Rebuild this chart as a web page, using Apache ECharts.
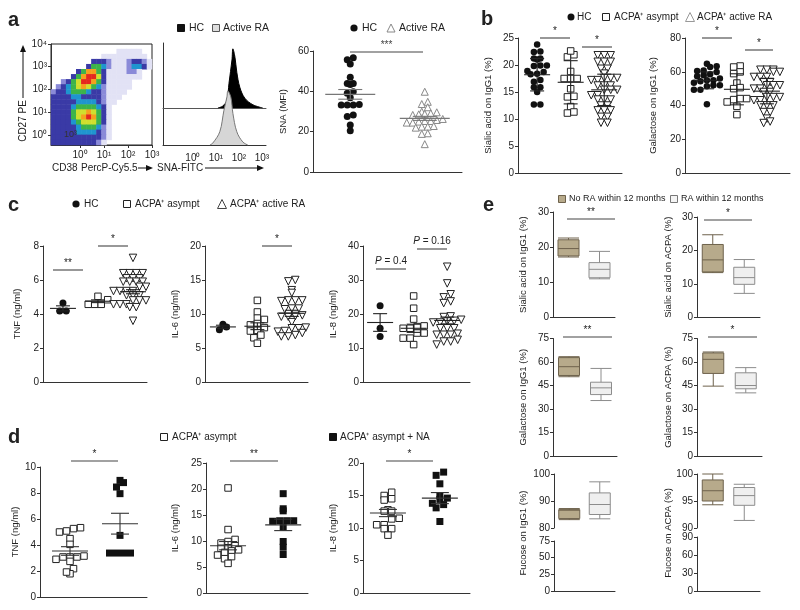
<!DOCTYPE html>
<html><head><meta charset="utf-8">
<script src="https://cdn.jsdelivr.net/npm/echarts@6/dist/echarts.min.js"></script>
<style>html,body{margin:0;padding:0;background:#fff}#c{width:800px;height:610px}</style>
</head><body><div id="c"></div>
<script>
// ---------- DATA ----------
// Panel a: flow density (levels 0-8, rows top->bottom, 20x20 cells)
const flowRows = [
"00000000000000000000",
"00000000000001111100",
"00000000001111111110",
"00000000333211123321",
"00000003554211124431",
"00000357753111122100",
"00003578863111111100",
"00235688753111110000",
"02345676542111110000",
"23345554332111100000",
"33334433332111000000",
"33333444432110000000",
"33334555543100000000",
"33335667653100000000",
"33335678753100000000",
"33334566653100000000",
"33333455542100000000",
"33333444432100000000",
"33333333332100000000",
"33333333321000000000"];
const flowTicks = [0,1,2,3];
const flowYTicks = [0,1,2,3,4];
// histogram (log10 SNA-FITC, relative count)
const histHC = [[1.09,0],[1.30,3],[1.48,12],[1.57,38],[1.70,74],[1.74,91],[1.83,78],[1.91,55],[2.04,32],[2.26,15],[2.61,5],[3.04,0]];
const histRA = [[0.74,0],[0.87,2],[1.17,13],[1.35,34],[1.48,47],[1.52,53],[1.65,47],[1.74,31],[1.91,13],[2.17,3],[2.39,0]];
// SNA MFI
const snaHC = [56.7,55.7,53.6,47.0,43.9,43.4,43.9,39.0,39.8,36.8,33.2,33.2,33.2,33.5,28.3,27.5,23.3,20.4];
const snaRA = [39.8,34.8,33.7,32.1,29.9,29.1,28.8,28.3,28.6,29.6,25.8,25.3,25.0,26.3,24.5,24.5,25.3,22.5,22.8,22.5,22.0,19.2,18.9,13.8];
const snaMean = [38.5,26.6], snaErr = [2.4,1.0];
// Panel b
const sialHC = [23.8,22.5,22.4,21.2,21.0,21.2,19.9,19.8,19.9,18.7,18.4,18.3,18.9,16.9,17.2,15.9,15.9,15.0,12.7,12.7];
const sialAs = [21.9,21.5,22.6,18.8,17.5,17.5,17.5,15.6,14.1,14.2,12.3,11.1,11.3];
const sialRA = [21.8,21.8,21.8,20.6,20.6,20.6,19.3,19.3,18.4,17.6,17.6,17.6,17.2,17.2,16.2,16.2,16.2,15.4,15.4,15.4,14.4,14.4,13.6,13.6,13.6,12.5,12.5,11.6,11.6,11.6,10.4,10.4,9.3,9.3];
const sialMean = [18.2,16.8,15.4], sialSD = [3.0,4.0,2.9];
const galHC = [64.8,62.8,63.2,60.8,59.9,60.4,57.9,57.3,58.5,56.0,54.9,54.3,54.9,53.5,52.0,51.4,52.0,49.4,49.4,40.7];
const galAs = [63.4,62.8,59.9,58.9,53.3,50.0,50.6,43.5,44.1,44.1,42.1,39.5,34.6];
const galRA = [61.2,61.2,61.2,59.9,59.9,56.9,56.9,56.9,53.9,53.9,52.0,52.0,52.0,50.0,50.0,48.0,48.0,45.0,45.0,45.0,43.1,43.1,40.1,40.1,40.1,36.1,36.1,32.2,29.6,30.5];
const galMean = [54.9,49.6,48.5], galSD = [5.0,9.2,7.5];
// Panel c
const tnfHC = [4.65,4.18,4.18];
const tnfAs = [5.04,4.84,4.57,4.57,4.57];
const tnfRA = [7.3,6.4,6.4,6.4,6.4,6.1,6.1,6.1,5.9,5.9,5.9,5.9,5.6,5.6,5.6,5.35,5.35,5.35,5.35,5.1,5.1,5.1,4.8,4.8,4.8,4.8,4.57,4.57,4.57,4.4,4.4,3.6];
const tnfMean = [4.33,4.75,5.31], tnfErr = [0.15,0.08,0.12];
const il6HC = [8.5,7.7,8.1];
const il6As = [12.0,10.3,9.4,9.2,8.4,8.6,7.5,8.0,7.6,6.9,6.5,5.7];
const il6RA = [15.0,14.8,13.5,13.1,12.0,12.0,12.0,11.9,10.8,10.8,10.7,9.6,9.7,9.8,9.6,8.8,7.9,7.9,8.0,7.4,7.2,7.5,6.9,6.7,6.7];
const il6Mean = [8.1,8.2,10.1], il6Err = [0.25,0.5,0.45];
const il8HC = [22.4,15.8,13.4];
const il8As = [25.3,21.7,18.5,16.3,16.5,15.8,15.8,14.4,14.4,12.9,12.9,11.0];
const il8RA = [33.9,29.0,25.8,24.9,23.7,23.2,19.3,19.1,18.3,17.5,17.8,17.5,18.0,15.8,15.8,15.8,13.9,14.2,13.9,13.9,11.9,12.4,11.9,11.0];
const il8Mean = [17.5,15.8,18.1], il8Err = [2.6,1.2,1.0];
// Panel d
const dTnfAs = [5.33,5.0,5.26,5.08,4.49,4.05,3.15,3.08,3.08,3.08,2.9,2.74,2.18,1.79,1.92];
const dTnfNA = [8.97,8.8,8.46,7.95,4.74,3.38,3.38,3.38,3.38];
const dTnfMean = [3.54,5.64], dTnfErr = [0.33,0.8];
const dIl6As = [20.2,12.2,10.3,9.9,9.6,9.1,8.7,8.6,8.3,8.1,7.8,7.3,7.0,6.6,5.7];
const dIl6NA = [19.1,16.2,15.8,13.9,13.9,13.9,13.8,12.7,9.9,8.8,7.4];
const dIl6Mean = [9.1,13.1], dIl6Err = [0.8,1.1];
const dIl8As = [15.5,15.0,14.5,14.3,12.8,12.6,12.6,11.5,11.4,10.5,10.5,9.9,9.9,8.9];
const dIl8NA = [18.6,18.1,16.8,15.0,13.8,14.4,13.1,13.6,11.0,14.6];
const dIl8Mean = [12.3,14.6], dIl8Err = [0.55,0.85];
// Panel e boxes [min, Q1, median, Q3, max]; [No RA, RA]
const eSialIgG = [[17.2,17.5,19.6,22.1,22.6],[11.0,11.3,13.7,15.6,18.8]];
const eSialACPA = [[13.4,13.6,17.2,21.8,24.7],[7.2,9.9,11.9,15.0,17.3]];
const eGalIgG = [[50.6,51.4,57.0,62.8,63.4],[35.4,39.2,43.5,47.1,55.9]];
const eGalACPA = [[44.6,52.7,61.7,65.8,66.4],[40.3,42.9,45.0,53.1,56.4]];
const eFucIgG = [[83.1,83.5,86.6,86.8,87.2],[83.4,85.0,88.7,93.0,97.1]];
const eFucACPA = [[94.3,95.0,96.9,98.9,100.0],[91.4,94.2,96.0,97.5,98.1]];

// ---------- BUILD ----------
const FONT = '"Liberation Sans", Arial, Helvetica, sans-serif';
const SUP = ['⁰','¹','²','³','⁴'];
const grid=[], xAxis=[], yAxis=[], series=[], graphic=[];
const AX = '#333';

function addGrid(l,t,r,b,extra){
  grid.push(Object.assign({left:l, top:t, width:r-l, height:b-t, containLabel:false, outerBoundsMode:'none'}, extra||{}));
  return grid.length-1;
}
function yAx(gi,min,max,interval,name,nameC){
  yAxis.push({gridIndex:gi, type:'value', min, max, interval, name:name||'', nameLocation:'middle', nameRotate:90,
    nameGap:(nameC||30)-5, nameTextStyle:{fontFamily:FONT, fontSize:9.5, color:'#222'},
    axisLine:{show:true, onZero:false, lineStyle:{color:AX, width:1}},
    axisTick:{show:true, length:3, lineStyle:{color:AX}},
    axisLabel:{show:true, fontFamily:FONT, fontSize:10, color:'#222', margin:4},
    splitLine:{show:false}});
  return yAxis.length-1;
}
function xAxVal(gi,min,max,showLine){
  xAxis.push({gridIndex:gi, type:'value', min, max,
    axisLine:{show:showLine!==false, onZero:false, lineStyle:{color:AX, width:1}},
    axisTick:{show:false}, axisLabel:{show:false}, splitLine:{show:false}});
  return xAxis.length-1;
}
// dot-plot layout: values binned into rows of ~one symbol height, each row centred
function swarm(vals, ypu, xpu, s){
  const binH = s*0.95;
  const bins = {};
  const pts = vals.map((v,i)=>({v, i, dx:0}));
  pts.forEach(p=>{ const b=Math.round(p.v*ypu/binH); (bins[b]=bins[b]||[]).push(p); });
  Object.keys(bins).forEach(b=>{
    const arr = bins[b].sort((a,c)=>a.v-c.v);
    const n = arr.length;
    arr.forEach((p,j)=>{ p.dx = (j-(n-1)/2)*s; });
  });
  return pts.map(p=>[p.dx/xpu, p.v]);
}
function meanRender(W,C,color){
  return function(params, api){
    const x=api.value(0), m=api.value(1), e=api.value(2);
    const p=api.coord([x,m]), pt=api.coord([x,m+e]), pb=api.coord([x,m-e]);
    const st={stroke:color, lineWidth:1.1};
    return {type:'group', children:[
      {type:'line', shape:{x1:p[0]-W,y1:p[1],x2:p[0]+W,y2:p[1]}, style:st},
      {type:'line', shape:{x1:p[0],y1:pt[1],x2:p[0],y2:pb[1]}, style:st},
      {type:'line', shape:{x1:p[0]-C,y1:pt[1],x2:p[0]+C,y2:pt[1]}, style:st},
      {type:'line', shape:{x1:p[0]-C,y1:pb[1],x2:p[0]+C,y2:pb[1]}, style:st}
    ]};
  };
}
const dotBlack = {symbol:'circle', size:7, fill:'#111', stroke:'#111', bw:0};
const sqOpen = {symbol:'rect', size:6.5, fill:'#fff', stroke:'#222', bw:1};
const sqFill = {symbol:'rect', size:7, fill:'#111', stroke:'#111', bw:0};
const triDown = {symbol:'triangle', size:7.5, rotate:180, fill:'#fff', stroke:'#222', bw:1};
const triUpGrey = {symbol:'triangle', size:7, fill:'#fff', stroke:'#888', bw:1};

function scatterPanel(c){
  const gi = addGrid(c.l,c.t,c.r,c.b);
  const xi = xAxVal(gi,c.xmin,c.xmax);
  const yi = yAx(gi,c.ymin,c.ymax,c.yint,c.name,c.nameC);
  const ypu=(c.b-c.t)/(c.ymax-c.ymin), xpu=(c.r-c.l)/(c.xmax-c.xmin);
  c.groups.forEach((g,k)=>{
    const pts = swarm(g.vals, ypu, xpu, c.s).map(p=>[k+1+p[0], p[1]]);
    series.push({type:'scatter', xAxisIndex:xi, yAxisIndex:yi, data:pts, symbol:g.sym.symbol, symbolSize:g.sym.size,
      symbolRotate:g.sym.rotate||0, itemStyle:{color:g.sym.fill, borderColor:g.sym.stroke, borderWidth:g.sym.bw, opacity:1},
      z:3, silent:true, animation:false});
  });
  series.push({type:'custom', xAxisIndex:xi, yAxisIndex:yi, data:c.mean.map((m,k)=>[k+1,m,c.err[k]]),
    renderItem:meanRender(c.W,c.C,c.lc), z:5, silent:true, animation:false});
}
const brownStyle = {color:'#b7aa8b', borderColor:'#6e624c', borderWidth:1};
const whiteStyle = {color:'#efefef', borderColor:'#8c8c8c', borderWidth:1};
function boxPanel(c){
  const gi = addGrid(c.l,c.t,c.r,c.b);
  xAxis.push({gridIndex:gi, type:'category', data:['No RA','RA'], boundaryGap:true,
    axisLine:{show:c.xline!==false, onZero:false, lineStyle:{color:AX}}, axisTick:{show:false}, axisLabel:{show:false}, splitLine:{show:false}});
  const xi=xAxis.length-1;
  const yi = yAx(gi,c.ymin,c.ymax,c.yint,c.name,c.nameC);
  if(c.boxes){
    series.push({type:'boxplot', xAxisIndex:xi, yAxisIndex:yi, boxWidth:[21,21], silent:true, animation:false,
      data:c.boxes.map((b,i)=>({value:b, itemStyle:i?whiteStyle:brownStyle}))});
  }
}

// --- panel a flow density ---
const heatData=[];
flowRows.forEach((row,r)=>{ for(let cI=0;cI<row.length;cI++){ const v=+row[cI]; if(v>0) heatData.push([cI,r,v]); } });
const idx20 = Array.from({length:20},(_,i)=>i);
const gH = addGrid(51,44,152,145);
xAxis.push({gridIndex:gH, type:'category', data:idx20, show:false});
yAxis.push({gridIndex:gH, type:'category', data:idx20, inverse:true, show:false});
series.push({type:'heatmap', xAxisIndex:xAxis.length-1, yAxisIndex:yAxis.length-1, data:heatData, silent:true, animation:false, z:1});
const heatSeriesIndex = series.length-1;
const gF = addGrid(51,44,152,145,{show:true, borderColor:'#222', borderWidth:1, backgroundColor:'transparent'});
xAxis.push({gridIndex:gF, type:'value', min:-1.21, max:3,
  axisLine:{show:true,onZero:false,lineStyle:{color:AX}}, splitLine:{show:false},
  axisTick:{show:true, length:3, customValues:flowTicks, lineStyle:{color:AX}},
  axisLabel:{show:true, customValues:flowTicks, fontFamily:FONT, fontSize:10, color:'#222', margin:5, formatter:v=>'10'+SUP[Math.round(v)]}});
yAxis.push({gridIndex:gF, type:'value', min:-0.44, max:4,
  axisLine:{show:true,onZero:false,lineStyle:{color:AX}}, splitLine:{show:false},
  axisTick:{show:true, length:3, customValues:flowYTicks, lineStyle:{color:AX}},
  axisLabel:{show:true, customValues:flowYTicks, fontFamily:FONT, fontSize:10, color:'#222', margin:4, formatter:v=>'10'+SUP[Math.round(v)]}});

// --- panel a histogram ---
const gHA = addGrid(163,43,266,108);
xAxis.push({gridIndex:gHA, type:'value', min:-1.3, max:3.18, axisLine:{show:true,onZero:false,lineStyle:{color:'#555'}}, axisTick:{show:false}, axisLabel:{show:false}, splitLine:{show:false}});
yAxis.push({gridIndex:gHA, type:'value', min:0, max:100, show:false});
series.push({type:'line', xAxisIndex:xAxis.length-1, yAxisIndex:yAxis.length-1, data:histHC, symbol:'none', smooth:0.35,
  lineStyle:{color:'#000', width:1}, areaStyle:{color:'#000', opacity:1}, z:2, silent:true, animation:false});
const gHB = addGrid(163,43,266,145);
xAxis.push({gridIndex:gHB, type:'value', min:-1.3, max:3.18,
  axisLine:{show:true,onZero:false,lineStyle:{color:AX}}, splitLine:{show:false},
  axisTick:{show:false},
  axisLabel:{show:true, customValues:flowTicks, fontFamily:FONT, fontSize:10, color:'#222', margin:8, formatter:v=>'10'+SUP[Math.round(v)]}});
yAxis.push({gridIndex:gHB, type:'value', min:0, max:100, axisLine:{show:true,onZero:false,lineStyle:{color:AX}}, axisTick:{show:false}, axisLabel:{show:false}, splitLine:{show:false}});
series.push({type:'line', xAxisIndex:xAxis.length-1, yAxisIndex:yAxis.length-1, data:histRA, symbol:'none', smooth:0.35,
  lineStyle:{color:'#777', width:1}, areaStyle:{color:'#d6d6d6', opacity:1}, z:3, silent:true, animation:false});

// --- panel a SNA ---
scatterPanel({l:313,t:51,r:462,b:172, ymin:0,ymax:60,yint:20, xmin:0.5,xmax:2.5, name:'SNA (MFI)', nameC:30,
  groups:[{vals:snaHC,sym:dotBlack},{vals:snaRA,sym:triUpGrey}], mean:snaMean, err:snaErr, lc:'#777', W:25, C:12, s:6});
// --- panel b ---
scatterPanel({l:518,t:38,r:622,b:173, ymin:0,ymax:25,yint:5, xmin:0.43,xmax:3.53, name:'Sialic acid on IgG1 (%)', nameC:30,
  groups:[{vals:sialHC,sym:Object.assign({},dotBlack,{size:6.5})},{vals:sialAs,sym:sqOpen},{vals:sialRA,sym:triDown}],
  mean:sialMean, err:sialSD, lc:'#222', W:13, C:7, s:6.5});
scatterPanel({l:685,t:38,r:790,b:173, ymin:0,ymax:80,yint:20, xmin:0.27,xmax:3.77, name:'Galactose on IgG1 (%)', nameC:32,
  groups:[{vals:galHC,sym:Object.assign({},dotBlack,{size:6.5})},{vals:galAs,sym:sqOpen},{vals:galRA,sym:triDown}],
  mean:galMean, err:galSD, lc:'#222', W:13, C:7, s:6.5});
// --- panel c ---
scatterPanel({l:43,t:246,r:147,b:382, ymin:0,ymax:8,yint:2, xmin:0.43,xmax:3.4, name:'TNF (ng/ml)', nameC:26,
  groups:[{vals:tnfHC,sym:dotBlack},{vals:tnfAs,sym:sqOpen},{vals:tnfRA,sym:triDown}],
  mean:tnfMean, err:tnfErr, lc:'#222', W:13, C:7, s:6.5});
scatterPanel({l:205,t:246,r:308,b:382, ymin:0,ymax:20,yint:5, xmin:0.48,xmax:3.47, name:'IL-6 (ng/ml)', nameC:30,
  groups:[{vals:il6HC,sym:dotBlack},{vals:il6As,sym:sqOpen},{vals:il6RA,sym:triDown}],
  mean:il6Mean, err:il6Err, lc:'#222', W:13, C:7, s:7});
scatterPanel({l:363,t:246,r:470,b:382, ymin:0,ymax:40,yint:10, xmin:0.49,xmax:3.68, name:'IL-8 (ng/ml)', nameC:30,
  groups:[{vals:il8HC,sym:dotBlack},{vals:il8As,sym:sqOpen},{vals:il8RA,sym:triDown}],
  mean:il8Mean, err:il8Err, lc:'#222', W:13, C:7, s:7});
// --- panel d ---
scatterPanel({l:40,t:467,r:147,b:597, ymin:0,ymax:10,yint:2, xmin:0.4,xmax:2.54, name:'TNF (ng/ml)', nameC:25,
  groups:[{vals:dTnfAs,sym:sqOpen},{vals:dTnfNA,sym:sqFill}], mean:dTnfMean, err:dTnfErr, lc:'#333', W:18, C:9, s:7});
scatterPanel({l:206,t:463,r:308,b:593, ymin:0,ymax:25,yint:5, xmin:0.6,xmax:2.45, name:'IL-6 (ng/ml)', nameC:31,
  groups:[{vals:dIl6As,sym:sqOpen},{vals:dIl6NA,sym:sqFill}], mean:dIl6Mean, err:dIl6Err, lc:'#333', W:18, C:9, s:7});
scatterPanel({l:363,t:463,r:470,b:593, ymin:0,ymax:20,yint:5, xmin:0.52,xmax:2.58, name:'IL-8 (ng/ml)', nameC:30,
  groups:[{vals:dIl8As,sym:sqOpen},{vals:dIl8NA,sym:sqFill}], mean:dIl8Mean, err:dIl8Err, lc:'#333', W:18, C:9, s:7.5});
// --- panel e ---
boxPanel({l:553,t:212,r:615,b:317.5, ymin:0,ymax:30,yint:10, name:'Sialic acid on IgG1 (%)', nameC:30, boxes:eSialIgG});
boxPanel({l:697,t:217,r:760,b:317.5, ymin:0,ymax:30,yint:10, name:'Sialic acid on ACPA (%)', nameC:29, boxes:eSialACPA});
boxPanel({l:553,t:338.5,r:617,b:456, ymin:0,ymax:75,yint:15, name:'Galactose on IgG1 (%)', nameC:30, boxes:eGalIgG});
boxPanel({l:697,t:338.5,r:762,b:456, ymin:0,ymax:75,yint:15, name:'Galactose on ACPA (%)', nameC:29, boxes:eGalACPA});
boxPanel({l:554,t:474,r:615,b:528, ymin:80,ymax:100,yint:10, xline:false, boxes:eFucIgG});
boxPanel({l:554,t:541,r:615,b:591, ymin:0,ymax:75,yint:25});
boxPanel({l:697,t:474,r:760,b:528, ymin:90,ymax:100,yint:5, xline:false, boxes:eFucACPA});
boxPanel({l:697,t:537,r:760,b:591, ymin:0,ymax:90,yint:30});

// ---------- ANNOTATIONS ----------
function T(x,y,text,o){ o=o||{};
  graphic.push({type:'text', x, y, rotation:o.rot||0, silent:true, z:10,
    style:{text, fill:o.color||'#222', font:(o.style||'normal')+' '+(o.weight||'normal')+' '+(o.size||10)+'px '+FONT,
      align:o.align||'left', verticalAlign:o.va||'middle', rich:o.rich}});
}
function L(x1,y1,x2,y2,o){ o=o||{};
  graphic.push({type:'line', silent:true, z:10, shape:{x1,y1,x2,y2}, style:{stroke:o.color||'#444', lineWidth:o.w||1.1}});
}
function circ(cx,cy,r,fill){ graphic.push({type:'circle', silent:true, z:10, shape:{cx,cy,r}, style:{fill}}); }
function sq(cx,cy,s,fill,stroke){ graphic.push({type:'rect', silent:true, z:10, shape:{x:cx-s/2,y:cy-s/2,width:s,height:s}, style:{fill, stroke, lineWidth:1}}); }
function tri(cx,cy,s,stroke){ graphic.push({type:'polygon', silent:true, z:10, shape:{points:[[cx,cy-s/2],[cx+s/2,cy+s/2],[cx-s/2,cy+s/2]]}, style:{fill:'#fff', stroke, lineWidth:1}}); }
function arrowHead(x,y,dir){
  const pts = dir==='up' ? [[x,y],[x-3,y+7],[x+3,y+7]] : [[x,y],[x-7,y-3],[x-7,y+3]];
  graphic.push({type:'polygon', silent:true, z:10, shape:{points:pts}, style:{fill:'#111'}});
}
function sig(x1,x2,y,txt,o){ L(x1,y,x2,y); T((x1+x2)/2, y-7, txt, Object.assign({align:'center', size:10}, o||{})); }

// panel letters
T(8,20,'a',{weight:'bold', size:20});
T(481,19,'b',{weight:'bold', size:20});
T(8,205,'c',{weight:'bold', size:20});
T(483,205,'e',{weight:'bold', size:20});
T(8,437,'d',{weight:'bold', size:20});

// a: flow labels
T(23,121,'CD27 PE',{rot:Math.PI/2, align:'center', size:10});
L(23,98,23,50,{color:'#111', w:1}); arrowHead(23,45,'up');
T(52,168,'CD38',{size:10}); T(81,168,'PercP-Cy5.5',{size:10});
L(138,168,148,168,{color:'#111', w:1}); arrowHead(153,168,'right');
T(157,168,'SNA-FITC',{size:10});
L(205,168,258,168,{color:'#111', w:1}); arrowHead(264,168,'right');
T(64,135,'10³',{size:9, color:'#333'});
// a: legends
sq(181,28,7,'#111','#111'); T(189,28,'HC',{size:10.5});
sq(216,28,7,'#ddd','#555'); T(223,28,'Active RA',{size:10.5});
circ(354,28,3.6,'#111'); T(362,28,'HC',{size:10.5});
tri(391,28,8,'#888'); T(399,28,'Active RA',{size:10.5});
sig(350,423,52,'***',{color:'#444'});
// b legend
circ(571,17,3.5,'#111'); T(577,17,'HC',{size:10});
sq(606,17,7,'#fff','#222'); T(614,17,'ACPA⁺ asympt',{size:10});
tri(690,17,9,'#999'); T(697,17,'ACPA⁺ active RA',{size:10});
sig(540,570,38,'*'); sig(582,612,47,'*'); sig(702,732,38,'*'); sig(745,773,50,'*');
// c legend
circ(76,204,3.6,'#111'); T(84,204,'HC',{size:10});
sq(127,204,7,'#fff','#222'); T(135,204,'ACPA⁺ asympt',{size:10});
tri(222,204,9,'#444'); T(230,204,'ACPA⁺ active RA',{size:10});
sig(53,83,270,'**'); sig(98,128,246,'*'); sig(262,292,246,'*');
const richP = {i:{fontStyle:'italic', fontSize:10, fontFamily:FONT, fill:'#222'}, n:{fontSize:10, fontFamily:FONT, fill:'#222'}};
L(376,269,406,269); T(391,261,'{i|P}{n| = 0.4}',{align:'center', rich:richP});
L(417,249,447,249); T(432,241,'{i|P}{n| = 0.16}',{align:'center', rich:richP});
// d legend
sq(164,437,7,'#fff','#222'); T(172,437,'ACPA⁺ asympt',{size:10});
sq(333,437,7,'#111','#111'); T(340,437,'ACPA⁺ asympt + NA',{size:10});
sig(71,118,461,'*'); sig(230,278,461,'**'); sig(386,433,461,'*');
// e legend
sq(562,199,7,'#b7aa8b','#6e624c'); T(569,199,'No RA within 12 months',{size:9});
sq(674,199,7,'#f4f4f4','#777'); T(681,199,'RA within 12 months',{size:9});
sig(567,615,219,'**'); sig(704,752,220,'*'); sig(563,612,337,'**'); sig(708,757,337,'*');
T(523,533,'Fucose on IgG1 (%)',{rot:Math.PI/2, align:'center', size:9.5});
T(668,533,'Fucose on ACPA (%)',{rot:Math.PI/2, align:'center', size:9.5});

const option = {
  animation:false, backgroundColor:'#fff',
  textStyle:{fontFamily:FONT},
  grid, xAxis, yAxis, series,
  visualMap:[{type:'piecewise', show:false, seriesIndex:heatSeriesIndex, dimension:2,
    pieces:[{value:1,color:'#e2e2f5'},{value:2,color:'#8a8ad8'},{value:3,color:'#3a3aa6'},{value:4,color:'#1f95cf'},
            {value:5,color:'#3cb44a'},{value:6,color:'#cfdf2e'},{value:7,color:'#f4a11d'},{value:8,color:'#e4281e'}]}],
  graphic:{elements:graphic}
};
const chart = echarts.init(document.getElementById('c'), null, {renderer:'canvas'});
chart.setOption(option);
</script></body></html>
